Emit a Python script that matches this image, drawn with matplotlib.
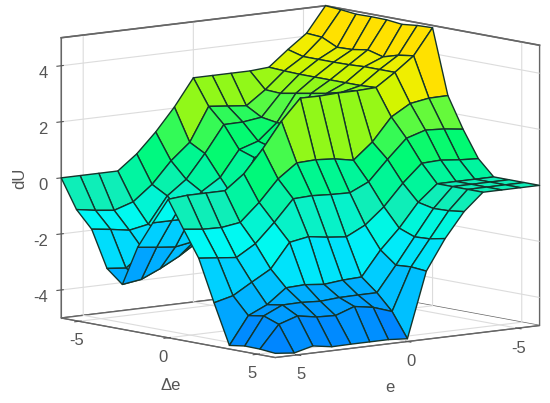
import matplotlib
matplotlib.use("Agg")
import matplotlib.pyplot as plt
import numpy as np
from matplotlib.colors import LinearSegmentedColormap, Normalize

# surface values, one row per delta-e value
e_vals = [6, 5.14, 4.29, 3.43, 2.57, 1.71, 0.86, 0, -0.86, -1.71, -2.57, -3.43, -4.29, -5.14, -6]
de_vals = [-6, -5.14, -4.29, -3.43, -2.57, -1.71, -0.86, 0, 0.86, 1.71, 2.57, 3.43, 4.29, 5.14, 6]

du_0 = [0, 0, 0, 0, 0.53, 1.23, 2.04, 3, 3, 3, 3, 3.05, 3.6, 4.1, 5]
du_1 = [-1.03, -1.14, -1.22, -1.0, -0.46, 0.3, 0.88, 2.08, 2.01, 1.94, 2.43, 3.02, 3.45, 4.06, 4.96]
du_2 = [-1.63, -1.72, -1.83, -1.7, -0.77, -0.26, 0.58, 1.53, 1.54, 1.63, 2.4, 3, 3.45, 3.8, 4.9]
du_3 = [-2.93, -3.0, -2.5, -1.9, -1.3, -0.6, -0.17, 0.74, 0.96, 1.54, 2.5, 3, 3.45, 3.82, 4.91]
du_4 = [-3.4, -3.3, -3.0, -2.64, -2.2, -1.6, -0.9, 0.55, 0.8, 1.5, 2.6, 3, 3.46, 3.91, 4.9]
du_5 = [-1.97, -2.05, -2.12, -2.0, -1.6, -1.0, -0.3, 0.5, 0.8, 1.5, 2.7, 3, 3.49, 3.76, 4.84]
du_6 = [-1.0, -1.0, -1.0, -0.9, -0.5, 0, 0.6, 1.5, 1.7, 2.0, 2.84, 3, 3.49, 3.92, 4.9]
du_7 = [-0.06, 0, 0, 0, 0.52, 1.33, 2.24, 2.98, 2.97, 3, 3, 3.03, 3.49, 4.0, 4.92]
du_8 = [-1.03, -1.11, -1.13, -1.03, -0.4, 0.36, 0.85, 0.88, 0.83, 0.7, 1.27, 2.08, 2.48, 2.59, 2.6]
du_9 = [-1.96, -2.03, -2.1, -1.69, -1.01, -0.25, -0.22, -0.26, -0.28, 0.03, 0.75, 1.42, 1.63, 1.59, 1.5]
du_10 = [-3.45, -3.28, -2.88, -2.49, -1.62, -1.5, -1.6, -1.67, -1.33, -0.76, 0, 0.63, 0.66, 0.59, 0.55]
du_11 = [-4.87, -3.89, -3.58, -3.06, -3.03, -3.1, -3.03, -3.0, -2.12, -1.42, -0.58, 0, 0, 0, 0]
du_12 = [-4.79, -3.8, -3.49, -3.48, -3.52, -3.47, -3.46, -3.46, -2.56, -1.63, -0.7, 0, 0, 0, 0]
du_13 = [-4.8, -4.0, -3.78, -3.9, -3.93, -3.69, -3.8, -4.03, -2.52, -1.6, -0.68, 0, 0, 0, 0]
du_14 = [-4.85, -4.92, -4.75, -4.86, -4.85, -4.85, -4.85, -4.9, -2.57, -1.49, -0.61, 0, 0, 0, 0]

e_ticks = [-5, 0, 5]
de_ticks = [-5, 0, 5]
du_ticks = [-4, -2, 0, 2, 4]

plt.rcParams['font.family'] = ['Liberation Sans', 'DejaVu Sans']
plt.rcParams['axes.unicode_minus'] = False
plt.rcParams['grid.color'] = '#dcdcdc'
plt.rcParams['grid.linewidth'] = 0.8

text_col = '#555555'
box_col = '#666666'

# colour stops, (dU, rgb)
stops = [(-5, (0, 100, 255)), (-4, (0, 135, 255)), (-3.3, (0, 165, 255)), (-2, (0, 210, 255)),
         (-1.1, (0, 250, 245)), (-0.5, (0, 245, 215)), (0, (15, 238, 185)), (0.55, (0, 245, 160)),
         (1.5, (0, 250, 115)), (2.6, (100, 250, 60)), (3, (145, 248, 25)), (3.5, (210, 245, 0)),
         (4, (240, 238, 0)), (4.9, (255, 225, 0)), (5, (255, 225, 0))]
cmap = LinearSegmentedColormap.from_list(
    'du', [((v + 5) / 10, tuple(c / 255 for c in rgb)) for v, rgb in stops])

du = np.array([du_0, du_1, du_2, du_3, du_4, du_5, du_6, du_7,
               du_8, du_9, du_10, du_11, du_12, du_13, du_14])
E, DE = np.meshgrid(e_vals, de_vals)

# flat shading like MATLAB: each cell takes the colour of one corner
corner = np.hstack([du[:, 1:], du[:, -1:]])
colors = cmap(Normalize(-5, 5)(corner))

fig = plt.figure(figsize=(5.5, 4.03), dpi=100)
# square axes bigger than the figure, otherwise the surface gets clipped
side = 620
ax = fig.add_axes([(292 - side / 2) / 550, (213 - side / 2) / 403, side / 550, side / 403],
                  projection='3d', proj_type='ortho')
ax.set_box_aspect((12, 12, 10), zoom=1.345 * 403 / side)
ax.view_init(elev=8.6, azim=51)

surf = ax.plot_surface(E, DE, du, facecolors=colors, rstride=1, cstride=1, shade=False, antialiased=True)
surf.set_edgecolor('#14352c')
surf.set_linewidth(1.0)

ax.set_xlim(-6, 6)
ax.set_ylim(-6, 6)
ax.set_zlim(-5, 5)
ax.set_xticks(e_ticks)
ax.set_yticks(de_ticks)
ax.set_zticks(du_ticks)
ax.set_xticklabels([str(t) for t in e_ticks], ha='right')
ax.set_yticklabels([str(t) for t in de_ticks], ha='left')
ax.set_zticklabels([str(t) for t in du_ticks], ha='right')
ax.tick_params(labelsize=12, colors=text_col)
ax.tick_params(axis='x', pad=1)
ax.tick_params(axis='y', pad=1)
ax.tick_params(axis='z', pad=-1.5)

fig.text(171 / 550, 1 - 385 / 403, 'Δe', fontsize=12, color=text_col, ha='center', va='center')
fig.text(390 / 550, 1 - 387 / 403, 'e', fontsize=12, color=text_col, ha='center', va='center')
fig.text(20 / 550, 1 - 178 / 403, 'dU', fontsize=12, color=text_col, ha='center', va='center', rotation=90)

for axis in [ax.xaxis, ax.yaxis, ax.zaxis]:
    axis.set_pane_color((1, 1, 1, 1))
    axis.pane.set_edgecolor(box_col)
    axis.line.set_color(box_col)

# remaining edges of the box
for xs, ys, zs in [([-6, -6], [-6, 6], [5, 5]), ([-6, 6], [-6, -6], [5, 5])]:
    ax.plot(xs, ys, zs, color=box_col, lw=1.2)

fig.savefig('out.png', dpi=100)
